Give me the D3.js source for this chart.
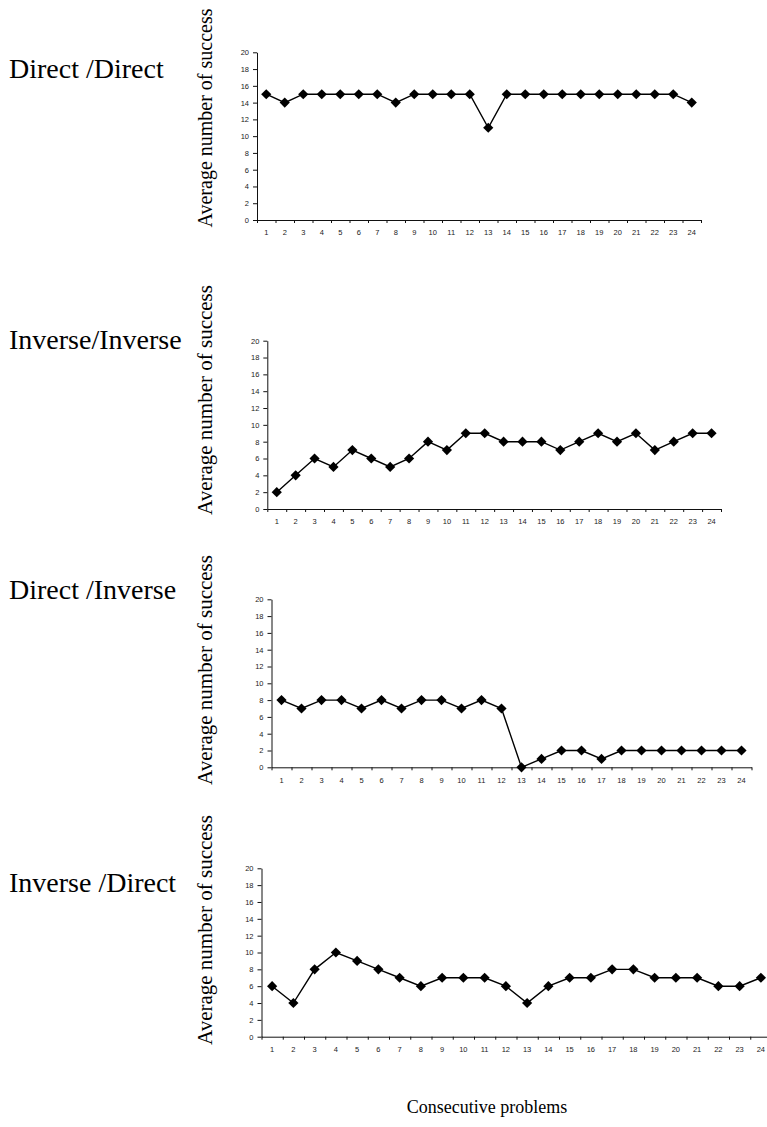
<!DOCTYPE html>
<html>
<head>
<meta charset="utf-8">
<script src="https://cdn.jsdelivr.net/npm/d3@7/dist/d3.min.js"></script>
<style>
  html, body { margin: 0; padding: 0; background: #fff; }
  svg { display: block; }
</style>
</head>
<body>
<svg id="chart" width="767" height="1127"></svg>
<script>
// Problems 1..24 along the x axis
const problems = d3.range(1, 25);
const yTicks = [0, 2, 4, 6, 8, 10, 12, 14, 16, 18, 20];

// Average number of successes per problem, one series per condition
const directDirect   = [15, 14, 15, 15, 15, 15, 15, 14, 15, 15, 15, 15, 11, 15, 15, 15, 15, 15, 15, 15, 15, 15, 15, 14];
const inverseInverse = [2, 4, 6, 5, 7, 6, 5, 6, 8, 7, 9, 9, 8, 8, 8, 7, 8, 9, 8, 9, 7, 8, 9, 9];
const directInverse  = [8, 7, 8, 8, 7, 8, 7, 8, 8, 7, 8, 7, 0, 1, 2, 2, 1, 2, 2, 2, 2, 2, 2, 2];
const inverseDirect  = [6, 4, 8, 10, 9, 8, 7, 6, 7, 7, 7, 6, 4, 6, 7, 7, 8, 8, 7, 7, 7, 6, 6, 7];

const conditionLabels = ["Direct /Direct", "Inverse/Inverse", "Direct /Inverse", "Inverse /Direct"];
const yTitle = "Average number of success";
const xTitle = "Consecutive problems";

// Plot frames for the four stacked panels
const panels = [
  { values: directDirect,   x0: 257,   x1: 701,   yTop: 52.3,  yBot: 220,    labelY: 78,  titleY: 118, titleSize: 20 },
  { values: inverseInverse, x0: 267.3, x1: 721,   yTop: 340.7, yBot: 509,    labelY: 349, titleY: 400, titleSize: 21 },
  { values: directInverse,  x0: 271.5, x1: 751.5, yTop: 599.3, yBot: 767.3,  labelY: 599, titleY: 670, titleSize: 21 },
  { values: inverseDirect,  x0: 261.5, x1: 771.5, yTop: 868.3, yBot: 1036.7, labelY: 892, titleY: 930, titleSize: 21 }
];

const svg = d3.select("#chart");
const serif = "'Liberation Serif', 'Times New Roman', serif";
const sans = "'Liberation Sans', Arial, sans-serif";

panels.forEach((p, i) => {
  const g = svg.append("g");

  const x = d3.scaleBand().domain(problems).range([p.x0, p.x1]);
  const xEdge = d3.scaleLinear().domain([0, problems.length]).range([p.x0, p.x1]);
  const y = d3.scaleLinear().domain([0, 20]).range([p.yBot, p.yTop]);

  // Condition name on the left
  g.append("text")
    .attr("x", 9).attr("y", p.labelY)
    .attr("font-family", serif).attr("font-size", 28)
    .attr("fill", "#000")
    .text(conditionLabels[i]);

  // Rotated y-axis title
  g.append("text")
    .attr("transform", `translate(212,${p.titleY}) rotate(-90)`)
    .attr("text-anchor", "middle")
    .attr("font-family", serif).attr("font-size", p.titleSize)
    .attr("fill", "#000")
    .text(yTitle);

  // Y axis
  const yAxis = g.append("g")
    .attr("transform", `translate(${p.x0},0)`)
    .call(d3.axisLeft(y).tickValues(yTicks).tickSize(4).tickSizeOuter(0).tickPadding(4));

  // X axis: tick marks on category boundaries
  const xAxisTicks = g.append("g")
    .attr("transform", `translate(0,${p.yBot})`)
    .call(d3.axisBottom(xEdge).tickValues(d3.range(0, problems.length + 1))
      .tickSize(3).tickSizeOuter(0).tickFormat(""));

  // X axis: category labels centred in each band
  const xAxisLabels = g.append("g")
    .attr("transform", `translate(0,${p.yBot})`)
    .call(d3.axisBottom(x).tickSize(0).tickPadding(10));
  xAxisLabels.select(".domain").remove();

  [yAxis, xAxisTicks, xAxisLabels].forEach(a => {
    a.selectAll("path, line").attr("stroke", "#111").attr("stroke-width", 1);
    a.selectAll("text").attr("font-family", sans).attr("font-size", 7.5).attr("fill", "#222");
  });

  // Series line
  const line = d3.line()
    .x((d, j) => x(problems[j]) + x.bandwidth() / 2)
    .y(d => y(d));

  g.append("path")
    .datum(p.values)
    .attr("d", line)
    .attr("fill", "none")
    .attr("stroke", "#000")
    .attr("stroke-width", 1.4);

  // Diamond markers
  const diamond = d3.symbol().type(d3.symbolSquare).size(52);
  g.selectAll("path.marker")
    .data(p.values)
    .join("path")
    .attr("class", "marker")
    .attr("d", diamond)
    .attr("transform", (d, j) => `translate(${x(problems[j]) + x.bandwidth() / 2},${y(d)}) rotate(45)`)
    .attr("fill", "#000");
});

// Shared x-axis title at the bottom
svg.append("text")
  .attr("x", 487).attr("y", 1113)
  .attr("text-anchor", "middle")
  .attr("font-family", serif).attr("font-size", 18)
  .attr("fill", "#000")
  .text(xTitle);
</script>
</body>
</html>
